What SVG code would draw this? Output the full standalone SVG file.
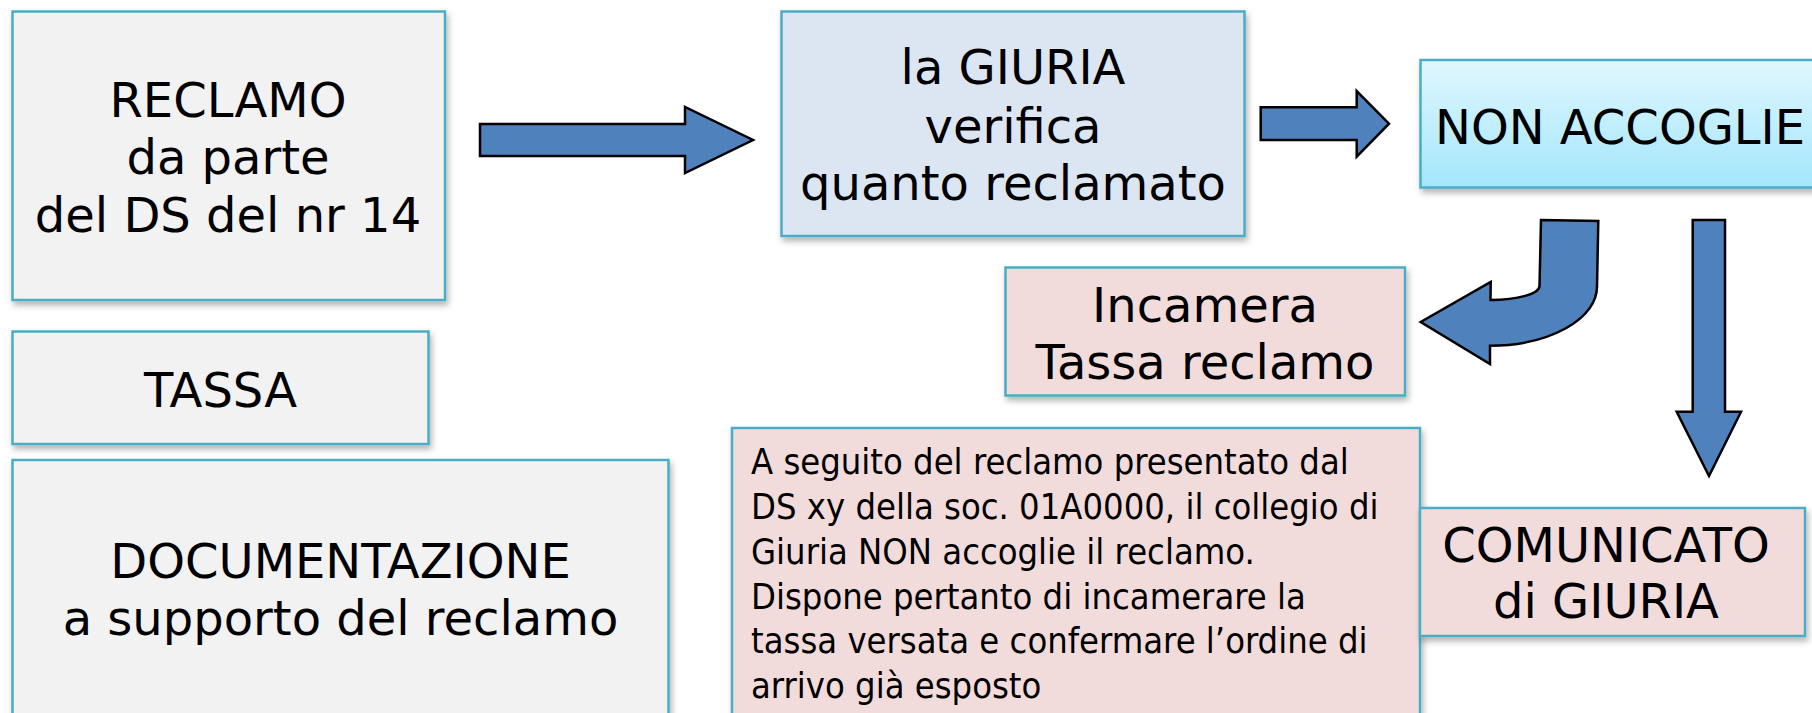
<svg xmlns="http://www.w3.org/2000/svg" width="1812" height="713" viewBox="0 0 1812 713">
<defs>
<style>
.box{stroke:#4BACC6;stroke-width:2.5;filter:url(#sh)}
.gray{fill:#F2F2F2}
.blue{fill:#DCE6F2}
.pink{fill:#F2DCDB}
.t{font-family:"DejaVu Sans","Liberation Sans",sans-serif;font-size:48px;fill:#000;text-anchor:middle}
.s{font-family:"DejaVu Sans Condensed","DejaVu Sans",sans-serif;font-size:36px;fill:#000}
.arr{fill:#4F81BD;stroke:#000;stroke-width:2.5;stroke-linejoin:miter}
</style>
<linearGradient id="cyan" x1="0" y1="0" x2="0" y2="1">
<stop offset="0" stop-color="#E0F7FE"/>
<stop offset="1" stop-color="#A3E6FC"/>
</linearGradient>
<filter id="sh" x="-5%" y="-5%" width="115%" height="120%">
<feDropShadow dx="2" dy="4" stdDeviation="3" flood-color="#000" flood-opacity="0.3"/>
</filter>
</defs>
<rect width="1812" height="713" fill="#FFFFFF"/>

<g id="reclamo">
<rect class="box gray" x="12.5" y="11.5" width="432.5" height="288.5"/>
<text class="t" x="228" y="116.5">RECLAMO</text>
<text class="t" x="228" y="174">da parte</text>
<text class="t" x="228" y="231.5">del DS del nr 14</text>
</g>

<g id="tassa">
<rect class="box gray" x="12.5" y="331.5" width="416" height="112.5"/>
<text class="t" x="220.5" y="407">TASSA</text>
</g>

<g id="documentazione">
<rect class="box gray" x="12.5" y="460" width="656" height="280"/>
<text class="t" x="340.5" y="577.5">DOCUMENTAZIONE</text>
<text class="t" x="340.5" y="635">a supporto del reclamo</text>
</g>

<g id="giuria">
<rect class="box blue" x="781.5" y="11.5" width="463" height="224.5"/>
<text class="t" x="1013" y="84">la GIURIA</text>
<text class="t" x="1013" y="142.5">verifica</text>
<text class="t" x="1013" y="200">quanto reclamato</text>
</g>

<g id="non-accoglie">
<rect class="box" fill="url(#cyan)" x="1420.5" y="60" width="420" height="127.5"/>
<text class="t" x="1435" y="143.5" style="text-anchor:start">NON ACCOGLIE</text>
</g>

<g id="incamera">
<rect class="box pink" x="1005.5" y="267.5" width="399.5" height="128"/>
<text class="t" x="1205" y="321.5">Incamera</text>
<text class="t" x="1205" y="379">Tassa reclamo</text>
</g>

<g id="dettaglio">
<rect class="box pink" x="732" y="428" width="688" height="310"/>
<text class="s" x="751" y="474">A seguito del reclamo presentato dal</text>
<text class="s" x="751" y="519">DS xy della soc. 01A0000, il collegio di</text>
<text class="s" x="751" y="563.5">Giuria NON accoglie il reclamo.</text>
<text class="s" x="751" y="608.5">Dispone pertanto di incamerare la</text>
<text class="s" x="751" y="653">tassa versata e confermare l’ordine di</text>
<text class="s" x="751" y="697.5">arrivo già esposto</text>
</g>

<g id="comunicato">
<rect class="box pink" x="1420" y="508" width="385" height="128"/>
<text class="t" x="1606" y="561.5">COMUNICATO</text>
<text class="t" x="1606" y="618">di GIURIA</text>
</g>

<g id="connectors">
<path class="arr" d="M480,124 L685,124 L685,107 L753,140 L685,173 L685,156 L480,156 Z"/>
<path class="arr" d="M1260.7,107.3 L1356.7,107.3 L1356.7,91 L1389,123.7 L1356.7,156.7 L1356.7,140 L1260.7,140 Z"/>
<path class="arr" d="M1541,220 L1598.3,221 L1597,287 A107,59 0 0 1 1490,345.7 L1490,364 L1420.7,322 L1490.7,282 L1490.5,300 A49,14 0 0 0 1539.5,286 Z"/>
<path class="arr" d="M1692.7,220 L1725,220 L1725,411.7 L1741,411.7 L1709,476 L1676.7,411.7 L1692.7,411.7 Z"/>
</g>
</svg>
